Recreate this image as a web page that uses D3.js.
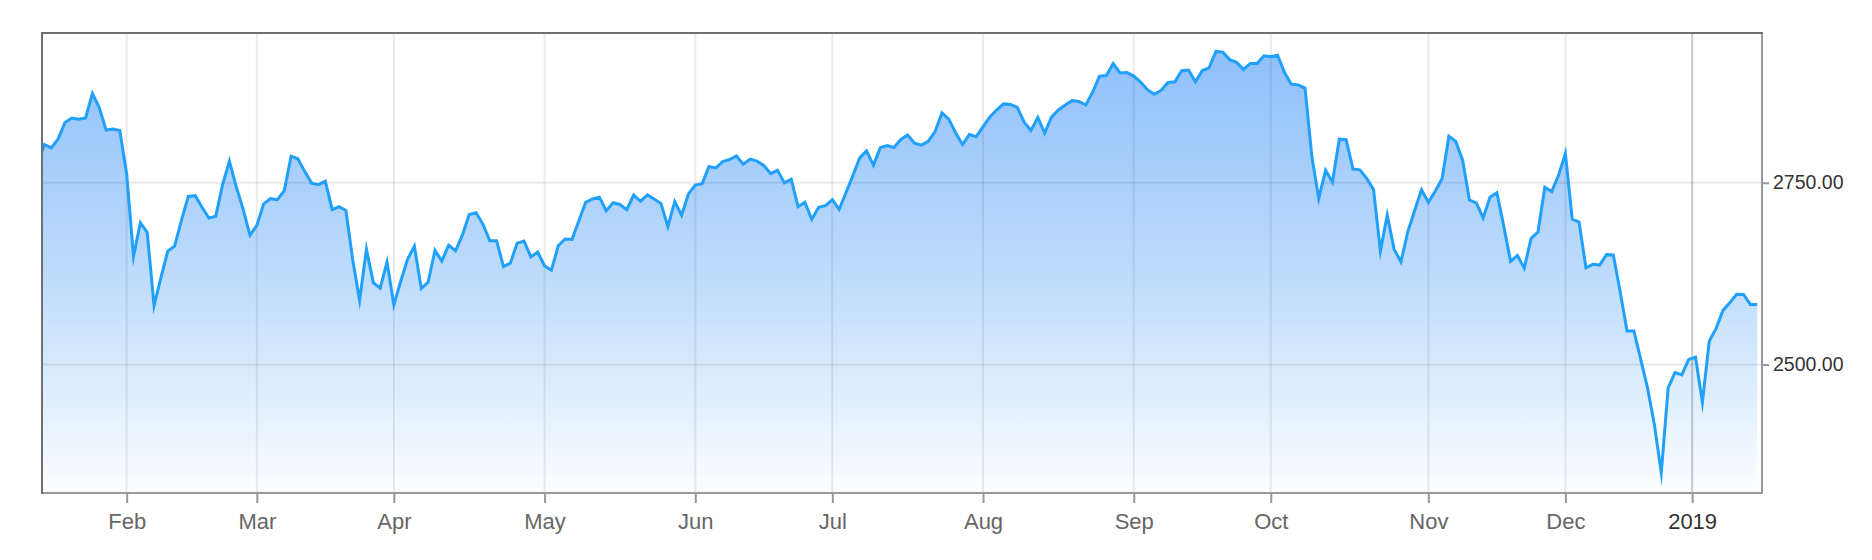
<!DOCTYPE html>
<html><head><meta charset="utf-8">
<script src="https://cdn.jsdelivr.net/npm/d3@7"></script>
<style>
html,body{margin:0;padding:0;background:#fff;}
svg{display:block;font-family:"Liberation Sans",Arial,Helvetica,sans-serif;}
</style>
</head><body>
<svg id="chart" width="1872" height="560"></svg>
<script>
// ---- data ----
const startDate = "2018-01-16";
const holidays = ["2018-02-19","2018-03-30","2018-05-28","2018-07-04","2018-09-03",
  "2018-11-22","2018-12-05","2018-12-25","2019-01-01"];
const closes = [
 2776.42,2802.56,2798.03,2810.30,2832.97,2839.13,2837.54,2839.25,2872.87,2853.53,2822.43,2823.81,
 2821.98,2762.13,2648.94,2695.14,2681.66,2581.00,2619.55,2656.00,2662.94,2698.63,2731.20,2732.22,
 2716.26,2701.33,2703.96,2747.30,2779.60,2744.28,2713.83,
 2677.67,2691.25,2720.94,2728.12,2726.80,2738.97,2786.57,2783.02,2765.31,2749.48,2747.33,2752.01,
 2712.92,2716.94,2711.93,2643.69,2588.26,2658.55,2612.62,2605.00,2640.87,
 2581.88,2614.45,2644.69,2662.84,2604.47,2613.16,2656.87,2642.19,2663.99,2656.30,2677.84,2706.39,
 2708.64,2693.13,2670.14,2670.29,2634.56,2639.40,2666.94,2669.91,2648.05,
 2654.80,2635.67,2629.73,2663.42,2672.63,2671.92,2697.79,2723.07,2727.72,2730.13,2711.45,2722.46,
 2720.13,2712.97,2733.01,2724.44,2733.29,2727.76,2721.33,2689.86,2724.01,2705.27,
 2734.62,2746.87,2748.80,2772.35,2770.37,2779.03,2782.00,2786.85,2775.63,2782.49,2779.66,2773.75,
 2762.59,2767.32,2749.76,2754.88,2717.07,2723.06,2699.63,2716.31,2718.37,
 2726.71,2713.22,2736.61,2759.82,2784.17,2793.84,2774.02,2798.29,2801.31,2798.43,2809.55,2815.62,
 2804.49,2801.83,2806.98,2820.40,2846.07,2837.44,2818.82,2802.60,2816.29,
 2813.36,2827.22,2840.35,2850.40,2858.45,2857.70,2853.58,2833.28,2821.93,2839.96,2818.37,2840.69,
 2850.13,2857.05,2862.96,2861.82,2856.98,2874.69,2896.74,2897.52,2914.04,2901.13,2901.52,
 2896.72,2888.60,2878.05,2871.68,2877.13,2887.89,2888.92,2904.18,2904.98,2888.80,2904.31,2907.95,
 2930.75,2929.67,2919.37,2915.56,2905.97,2914.00,2913.98,
 2924.59,2923.43,2925.51,2901.61,2885.57,2884.43,2880.34,2785.68,2728.37,2767.13,2750.79,2809.92,
 2809.21,2768.78,2767.78,2755.88,2740.69,2656.10,2705.57,2658.69,2641.25,2682.63,2711.74,
 2740.37,2723.06,2738.31,2755.45,2813.89,2806.83,2781.01,2726.22,2722.18,2701.58,2730.20,2736.27,
 2690.73,2641.89,2649.93,2632.56,2673.45,2682.17,2743.79,2737.80,2760.17,
 2790.37,2700.06,2695.95,2633.08,2637.72,2636.78,2651.07,2650.54,2599.95,2545.94,2546.16,2506.96,
 2467.42,2416.62,2351.10,2467.70,2488.83,2485.74,2506.85,
 2510.03,2447.89,2531.94,2549.69,2574.41,2584.96,2596.64,2596.26,2582.61,2582.60
];
const tickDates = ["2018-02-02","2018-03-02","2018-04-02","2018-05-02","2018-06-04","2018-07-02",
  "2018-08-02","2018-09-04","2018-10-02","2018-11-02","2018-12-03","2019-01-01"];
const tickLabels = ["Feb","Mar","Apr","May","Jun","Jul","Aug","Sep","Oct","Nov","Dec","2019"];
const yTicks = [2500, 2750];
const yDomain = [2323.2, 2956];
const xDomain = [0.642, 251.7];

// ---- trading calendar ----
const dates = [];
{
  let t = new Date(startDate + "T00:00:00Z");
  const hol = new Set(holidays);
  while (dates.length < closes.length) {
    const iso = t.toISOString().slice(0,10);
    const wd = t.getUTCDay();
    if (wd !== 0 && wd !== 6 && !hol.has(iso)) dates.push(iso);
    t = new Date(t.getTime() + 86400000);
  }
}
const dateTime = dates.map(d => Date.parse(d + "T00:00:00Z"));
function dateToIndex(d) {
  const k = dates.indexOf(d);
  if (k >= 0) return k;
  const t = Date.parse(d + "T00:00:00Z");
  const i = d3.bisectRight(dateTime, t) - 1;
  return i + (t - dateTime[i]) / (dateTime[i+1] - dateTime[i]);
}
const data = closes.map((v, i) => ({i, v}));

// ---- layout ----
const L = 42, R = 1762, T = 33, B = 493;
const svg = d3.select("#chart");
const x = d3.scaleLinear().domain(xDomain).range([L, R]);
const y = d3.scaleLinear().domain(yDomain).range([B, T]);

const defs = svg.append("defs");
defs.append("clipPath").attr("id", "plotclip")
  .append("rect").attr("x", L).attr("y", T).attr("width", R - L).attr("height", B - T);
const grad = defs.append("linearGradient").attr("id", "fillgrad")
  .attr("gradientUnits", "userSpaceOnUse")
  .attr("x1", 0).attr("y1", T).attr("x2", 0).attr("y2", B);
[[0, "#8bbdfa"], [0.55, "#c0ddfc"], [0.88, "#ebf5fe"], [1, "#fcfdff"]].forEach(([o, c]) =>
  grad.append("stop").attr("offset", o).attr("stop-color", c));

const plot = svg.append("g").attr("clip-path", "url(#plotclip)");

plot.append("path").datum(data)
  .attr("fill", "url(#fillgrad)")
  .attr("d", d3.area().x(d => x(d.i)).y0(B).y1(d => y(d.v)));

// grid lines
const tickIdx = tickDates.map(dateToIndex);
plot.selectAll("line.vg").data(tickIdx).join("line")
  .attr("class", "vg")
  .attr("x1", d => x(d)).attr("x2", d => x(d))
  .attr("y1", T).attr("y2", B)
  .attr("stroke", (d, k) => tickLabels[k] === "2019" ? "rgba(0,0,0,0.2)" : "rgba(0,0,0,0.08)")
  .attr("stroke-width", 2);
plot.selectAll("line.hg").data(yTicks).join("line")
  .attr("class", "hg")
  .attr("x1", L).attr("x2", R)
  .attr("y1", d => y(d)).attr("y2", d => y(d))
  .attr("stroke", "rgba(0,0,0,0.08)")
  .attr("stroke-width", 2);

plot.append("path").datum(data)
  .attr("fill", "none")
  .attr("stroke", "#21a0fa")
  .attr("stroke-width", 3)
  .attr("stroke-linejoin", "miter")
  .attr("stroke-miterlimit", 12)
  .attr("d", d3.line().x(d => x(d.i)).y(d => y(d.v)));

// frame
svg.append("line").attr("x1", L).attr("x2", R + 1).attr("y1", B).attr("y2", B)
  .attr("stroke", "#999").attr("stroke-width", 2);
svg.append("line").attr("x1", R).attr("x2", R).attr("y1", T).attr("y2", B + 1)
  .attr("stroke", "#999").attr("stroke-width", 2);
svg.append("line").attr("x1", L - 1).attr("x2", R + 1).attr("y1", T).attr("y2", T)
  .attr("stroke", "#707070").attr("stroke-width", 2);
svg.append("line").attr("x1", L).attr("x2", L).attr("y1", T).attr("y2", B + 1)
  .attr("stroke", "#707070").attr("stroke-width", 2);

// x axis
const xAxis = d3.axisBottom(x).tickValues(tickIdx)
  .tickFormat((d, k) => tickLabels[k]).tickSize(10).tickSizeOuter(0);
const gx = svg.append("g").attr("transform", `translate(0,${B})`).call(xAxis);
gx.select(".domain").remove();
gx.selectAll(".tick line").attr("stroke", "#999").attr("stroke-width", 2);
gx.selectAll(".tick text")
  .attr("y", 36).attr("dy", 0)
  .attr("font-size", 22)
  .attr("font-family", "Liberation Sans, Arial, sans-serif")
  .attr("fill", (d, k) => tickLabels[k] === "2019" ? "#333" : "#666");

// y axis (right)
const yAxis = d3.axisRight(y).tickValues(yTicks).tickFormat(d3.format(".2f"))
  .tickSize(7).tickPadding(4);
const gy = svg.append("g").attr("transform", `translate(${R},0)`).call(yAxis);
gy.select(".domain").remove();
gy.selectAll(".tick line").attr("stroke", "#999").attr("stroke-width", 2);
gy.selectAll(".tick text")
  .attr("font-size", 19.5)
  .attr("font-family", "Liberation Sans, Arial, sans-serif")
  .attr("fill", "#333");
</script>
</body></html>
